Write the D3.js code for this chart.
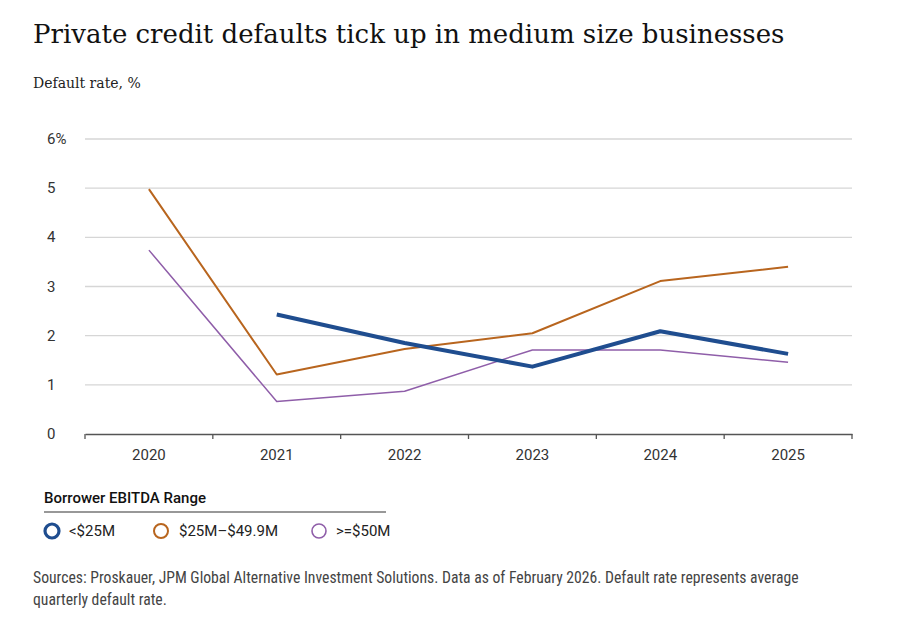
<!DOCTYPE html>
<html>
<head>
<meta charset="utf-8">
<script src="https://cdn.jsdelivr.net/npm/d3@7"></script>
<style>
  body { margin: 0; background: #fff; }
  svg { display: block; }
</style>
</head>
<body>
<div id="chart"></div>
<script>
// data
var years = ["2020", "2021", "2022", "2023", "2024", "2025"];
var small = [null, 2.43, 1.85, 1.37, 2.09, 1.63];   // <$25M
var mid = [4.98, 1.21, 1.73, 2.05, 3.11, 3.40];     // $25M-$49.9M
var large = [3.74, 0.66, 0.87, 1.71, 1.71, 1.46];   // >=$50M
var yTicks = [0, 1, 2, 3, 4, 5, 6];
var seriesNames = ["<$25M", "$25M\u2013$49.9M", ">=$50M"];

var width = 902, height = 618;
var pLeft = 85, pRight = 852, pTop = 139, pBottom = 434;

var svg = d3.select("#chart").append("svg")
	.attr("width", width)
	.attr("height", height);

var sans = "Roboto, 'Noto Sans', sans-serif";

svg.append("text")
	.attr("x", 33).attr("y", 43)
	.style("font-family", "'DejaVu Serif', serif")
	.style("font-size", "26px")
	.style("fill", "#111")
	.text("Private credit defaults tick up in medium size businesses");

svg.append("text")
	.attr("x", 33).attr("y", 88)
	.style("font-family", "'DejaVu Serif', serif")
	.style("font-size", "14px")
	.style("fill", "#222")
	.text("Default rate, %");

var x = d3.scaleBand().domain(years).range([pLeft, pRight]);
var y = d3.scaleLinear().domain([0, 6]).range([pBottom, pTop]);

// gridlines
svg.append("g").selectAll("line")
	.data(yTicks.filter(function(d) { return d > 0; }))
	.enter().append("line")
	.attr("x1", pLeft).attr("x2", pRight)
	.attr("y1", function(d) { return y(d); })
	.attr("y2", function(d) { return y(d); })
	.style("stroke", "#d6d6d6")
	.style("stroke-width", 1.3);

// y labels (left aligned like the original)
svg.append("g").selectAll("text")
	.data(yTicks)
	.enter().append("text")
	.attr("x", 47)
	.attr("y", function(d) { return y(d) + 5; })
	.style("font-family", sans)
	.style("font-size", "15px")
	.style("fill", "#333")
	.text(function(d) { return d == 6 ? "6%" : d; });

// x axis
var xAxis = svg.append("g")
	.attr("transform", "translate(0," + pBottom + ")")
	.call(d3.axisBottom(x).tickSize(0).tickPadding(15));
xAxis.select(".domain").style("stroke", "#555").style("stroke-width", 1.5);
xAxis.selectAll("text")
	.style("font-family", sans)
	.style("font-size", "15px")
	.style("fill", "#333");
xAxis.selectAll(".edge")
	.data(d3.range(years.length + 1))
	.enter().append("line")
	.attr("class", "edge")
	.attr("x1", function(i) { return pLeft + i * x.step(); })
	.attr("x2", function(i) { return pLeft + i * x.step(); })
	.attr("y1", 0).attr("y2", 5)
	.style("stroke", "#555")
	.style("stroke-width", 1.3);

var line = d3.line()
	.defined(function(d) { return d != null; })
	.x(function(d, i) { return x(years[i]) + x.bandwidth() / 2; })
	.y(function(d) { return y(d); });

var series = [
	{ values: mid, color: "#b8651e", w: 2 },
	{ values: large, color: "#8f5ea9", w: 1.5 },
	{ values: small, color: "#1f4d8f", w: 4 }
];

svg.append("g").selectAll("path")
	.data(series)
	.enter().append("path")
	.attr("d", function(d) { return line(d.values); })
	.style("fill", "none")
	.style("stroke", function(d) { return d.color; })
	.style("stroke-width", function(d) { return d.w; })
	.style("stroke-linejoin", "round");

// legend
svg.append("text")
	.attr("x", 44).attr("y", 503)
	.style("font-family", sans)
	.style("font-size", "15px")
	.style("font-weight", 500)
	.style("fill", "#111")
	.text("Borrower EBITDA Range");

svg.append("line")
	.attr("x1", 44).attr("x2", 386)
	.attr("y1", 512).attr("y2", 512)
	.style("stroke", "#333")
	.style("stroke-width", 1.2);

var legendItems = [
	{ name: seriesNames[0], color: "#1f4d8f", w: 3.2, cx: 52, tx: 69 },
	{ name: seriesNames[1], color: "#b8651e", w: 2, cx: 161, tx: 179 },
	{ name: seriesNames[2], color: "#8f5ea9", w: 1.6, cx: 319, tx: 336 }
];

var leg = svg.append("g").selectAll("g")
	.data(legendItems)
	.enter().append("g");
leg.append("circle")
	.attr("cx", function(d) { return d.cx; })
	.attr("cy", 531)
	.attr("r", 7)
	.style("fill", "none")
	.style("stroke", function(d) { return d.color; })
	.style("stroke-width", function(d) { return d.w; });
leg.append("text")
	.attr("x", function(d) { return d.tx; })
	.attr("y", 536)
	.style("font-family", sans)
	.style("font-size", "15px")
	.style("fill", "#222")
	.text(function(d) { return d.name; });

// footnote
var foot = svg.append("text")
	.style("font-family", "'Liberation Sans Narrow', 'Roboto Condensed', sans-serif")
	.style("font-size", "15.7px")
	.style("fill", "#444");
foot.append("tspan").attr("x", 33).attr("y", 583)
	.text("Sources: Proskauer, JPM Global Alternative Investment Solutions. Data as of February 2026. Default rate represents average");
foot.append("tspan").attr("x", 33).attr("y", 605)
	.text("quarterly default rate.");
</script>
</body>
</html>
